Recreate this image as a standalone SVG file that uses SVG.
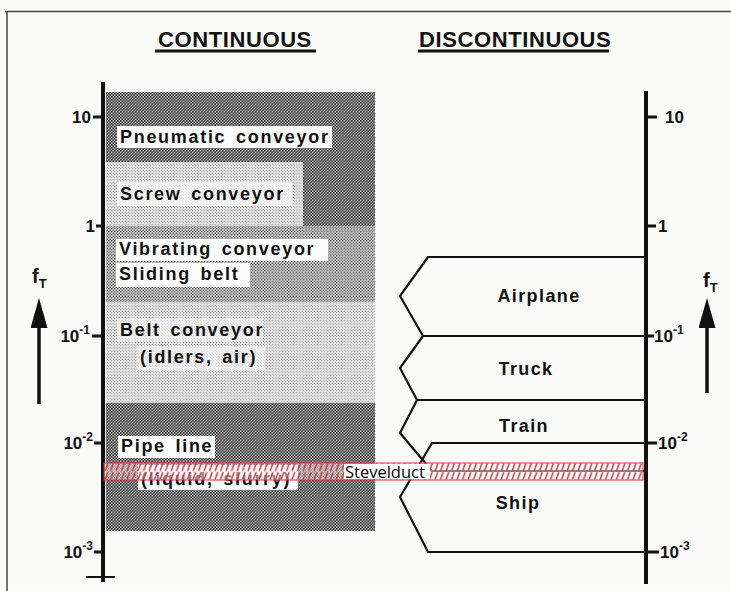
<svg xmlns="http://www.w3.org/2000/svg" width="731" height="591" viewBox="0 0 731 591">
  <style>
    .title { font: bold 22px "Liberation Sans", Arial, sans-serif; letter-spacing: 0.6px; fill: #111; }
    .lbl { font: bold 18px "Liberation Sans", Arial, sans-serif; letter-spacing: 1.7px; word-spacing: 3px; fill: #111; }
    .mode { font: bold 18px "Liberation Sans", Arial, sans-serif; letter-spacing: 1.4px; fill: #111; text-anchor: middle; }
    .tick { font: bold 17px "Liberation Sans", Arial, sans-serif; fill: #111; }
    .sup { font-size: 12px; }
    .ft { font: bold 20px "Liberation Sans", Arial, sans-serif; fill: #111; }
    .sub { font-size: 13px; }
    .axis { stroke: #111; stroke-width: 4; fill: none; }
    .tk { stroke: #111; stroke-width: 3; }
    .shape { fill: none; stroke: #111; stroke-width: 2.2; stroke-linejoin: round; }
    .box { fill: #fcfcfc; }
    .frame { stroke: #444; stroke-width: 1.5; fill: none; }
    .note { font: 16.5px "Open Sans", "Liberation Sans", sans-serif; fill: #000; }
  </style>
  <defs>
    <pattern id="dotDark" width="3" height="3" patternUnits="userSpaceOnUse">
      <rect width="3" height="3" fill="#cacaca"/>
      <circle cx="0.75" cy="0.75" r="0.88" fill="#222"/>
      <circle cx="2.25" cy="2.25" r="0.88" fill="#222"/>
    </pattern>
    <pattern id="dotMid" width="3" height="3" patternUnits="userSpaceOnUse">
      <rect width="3" height="3" fill="#dedede"/>
      <circle cx="0.75" cy="0.75" r="0.75" fill="#3a3a3a"/>
      <circle cx="2.25" cy="2.25" r="0.75" fill="#3a3a3a"/>
    </pattern>
    <pattern id="dotLight" width="3" height="3" patternUnits="userSpaceOnUse">
      <rect width="3" height="3" fill="#f0f0f0"/>
      <circle cx="0.75" cy="0.75" r="0.55" fill="#6a6a6a"/>
      <circle cx="2.25" cy="2.25" r="0.55" fill="#6a6a6a"/>
    </pattern>
    <pattern id="hatch" x="104" y="463" width="5.5" height="8.5" patternUnits="userSpaceOnUse">
      <rect width="5.5" height="8.5" fill="#fff" fill-opacity="0.5"/>
      <line x1="1" y1="8" x2="3.8" y2="0.6" stroke="#d42a35" stroke-width="1.4"/>
    </pattern>
    <marker id="head" viewBox="0 0 30 17" refX="1" refY="8.5" markerWidth="30" markerHeight="17" markerUnits="userSpaceOnUse" orient="auto">
      <path d="M0,0 L30,8.5 L0,17 Z" fill="#111"/>
    </marker>
  </defs>

  <rect width="731" height="591" fill="#fafaf9"/>
  <path class="frame" d="M5,11.5 H731 M7,11.5 V591"/>

  <!-- column headings -->
  <g id="heading-continuous">
    <text class="title" x="158" y="47">CONTINUOUS</text>
    <line x1="155" y1="51" x2="316" y2="51" stroke="#111" stroke-width="3"/>
  </g>
  <g id="heading-discontinuous">
    <text class="title" x="419" y="47">DISCONTINUOUS</text>
    <line x1="418" y1="51" x2="609" y2="51" stroke="#111" stroke-width="3"/>
  </g>

  <!-- continuous conveying ranges -->
  <g id="pneumatic-conveyor">
    <path d="M106,92 H375 V226 H303 V162 H106 Z" fill="url(#dotDark)"/>
    <rect class="box" x="117" y="126" width="215" height="22"/>
    <text class="lbl" x="120" y="143">Pneumatic conveyor</text>
  </g>
  <g id="screw-conveyor">
    <rect x="106" y="162" width="197" height="64" fill="url(#dotLight)"/>
    <rect class="box" x="117" y="182" width="175" height="24" fill-opacity="0.7"/>
    <text class="lbl" x="120" y="200">Screw conveyor</text>
  </g>
  <g id="vibrating-conveyor">
    <rect x="106" y="226" width="269" height="76" fill="url(#dotMid)"/>
    <rect class="box" x="116" y="239" width="212" height="22"/>
    <text class="lbl" x="119" y="255">Vibrating conveyor</text>
    <rect class="box" x="116" y="263" width="134" height="24"/>
    <text class="lbl" x="119" y="280">Sliding belt</text>
  </g>
  <g id="belt-conveyor">
    <rect x="106" y="302" width="269" height="101" fill="url(#dotLight)"/>
    <rect class="box" x="117" y="318" width="146" height="24" fill-opacity="0.6"/>
    <rect class="box" x="137" y="346" width="128" height="24" fill-opacity="0.6"/>
    <text class="lbl" x="120" y="336">Belt conveyor</text>
    <text class="lbl" x="140" y="363">(idlers, air)</text>
  </g>
  <g id="pipe-line">
    <rect x="106" y="403" width="269" height="128" fill="url(#dotDark)"/>
    <rect class="box" x="118" y="436" width="97" height="22"/>
    <text class="lbl" x="121" y="452">Pipe line</text>
    <rect class="box" x="138" y="465" width="160" height="25"/>
    <text class="lbl" x="141" y="485">(liquid, slurry)</text>
  </g>

  <!-- left frequency axis -->
  <g id="axis-left">
    <line class="axis" x1="103" y1="82" x2="103" y2="582"/>
    <line class="tk" x1="93" y1="117" x2="103" y2="117"/>
    <line class="tk" x1="96" y1="226" x2="103" y2="226"/>
    <line class="tk" x1="92" y1="336" x2="103" y2="336"/>
    <line class="tk" x1="94" y1="443" x2="103" y2="443"/>
    <line class="tk" x1="94" y1="552" x2="103" y2="552"/>
    <line x1="86" y1="577" x2="115" y2="577" stroke="#111" stroke-width="2"/>
    <text class="tick" x="91" y="123" text-anchor="end">10</text>
    <text class="tick" x="95" y="232" text-anchor="end">1</text>
    <text class="tick" x="90" y="342" text-anchor="end">10<tspan class="sup" dy="-8">-1</tspan></text>
    <text class="tick" x="93" y="449" text-anchor="end">10<tspan class="sup" dy="-8">-2</tspan></text>
    <text class="tick" x="93" y="558" text-anchor="end">10<tspan class="sup" dy="-8">-3</tspan></text>
  </g>

  <!-- right frequency axis -->
  <g id="axis-right">
    <line class="axis" x1="646" y1="91" x2="646" y2="584"/>
    <line class="tk" x1="646" y1="117" x2="657" y2="117"/>
    <line class="tk" x1="646" y1="226" x2="656" y2="226"/>
    <line class="tk" x1="646" y1="336" x2="654" y2="336"/>
    <line class="tk" x1="646" y1="443" x2="657" y2="443"/>
    <line class="tk" x1="646" y1="552" x2="659" y2="552"/>
    <text class="tick" x="665" y="123">10</text>
    <text class="tick" x="658" y="232">1</text>
    <text class="tick" x="654" y="342">10<tspan class="sup" dy="-8">-1</tspan></text>
    <text class="tick" x="658" y="449">10<tspan class="sup" dy="-8">-2</tspan></text>
    <text class="tick" x="660" y="558">10<tspan class="sup" dy="-8">-3</tspan></text>
  </g>

  <!-- discontinuous transport modes -->
  <g id="airplane">
    <path class="shape" d="M646,257 H428 L400,296 L423,336 H646"/>
    <text class="mode" x="539" y="302">Airplane</text>
  </g>
  <g id="truck">
    <path class="shape" d="M646,336 H423 L400,368 L417,400 H646"/>
    <text class="mode" x="526" y="375">Truck</text>
  </g>
  <g id="train">
    <path class="shape" d="M646,400 H417 L400,433 L432,471 H646"/>
    <text class="mode" x="524" y="432">Train</text>
  </g>
  <g id="ship">
    <path class="shape" d="M646,443 H432 L400,497 L428,552 H646"/>
    <text class="mode" x="518" y="509">Ship</text>
  </g>

  <!-- f_T direction arrows -->
  <g id="connectors">
    <line x1="39" y1="404" x2="39" y2="327" stroke="#111" stroke-width="3.5" marker-end="url(#head)"/>
    <line x1="707" y1="393" x2="707" y2="327" stroke="#111" stroke-width="3.5" marker-end="url(#head)"/>
  </g>
  <g id="ft-left">
    <text class="ft" x="32" y="283">f<tspan class="sub" dy="5">T</tspan></text>
  </g>
  <g id="ft-right">
    <text class="ft" x="703" y="287">f<tspan class="sub" dy="5">T</tspan></text>
  </g>

  <!-- Stevelduct band -->
  <g id="stevelduct">
    <rect x="104" y="463" width="539" height="17" fill="url(#hatch)" stroke="#d42a35" stroke-width="1"/>
    <rect x="344" y="464" width="86" height="15" fill="#fff"/>
    <text class="note" x="345" y="477.5">Stevelduct</text>
  </g>
</svg>
